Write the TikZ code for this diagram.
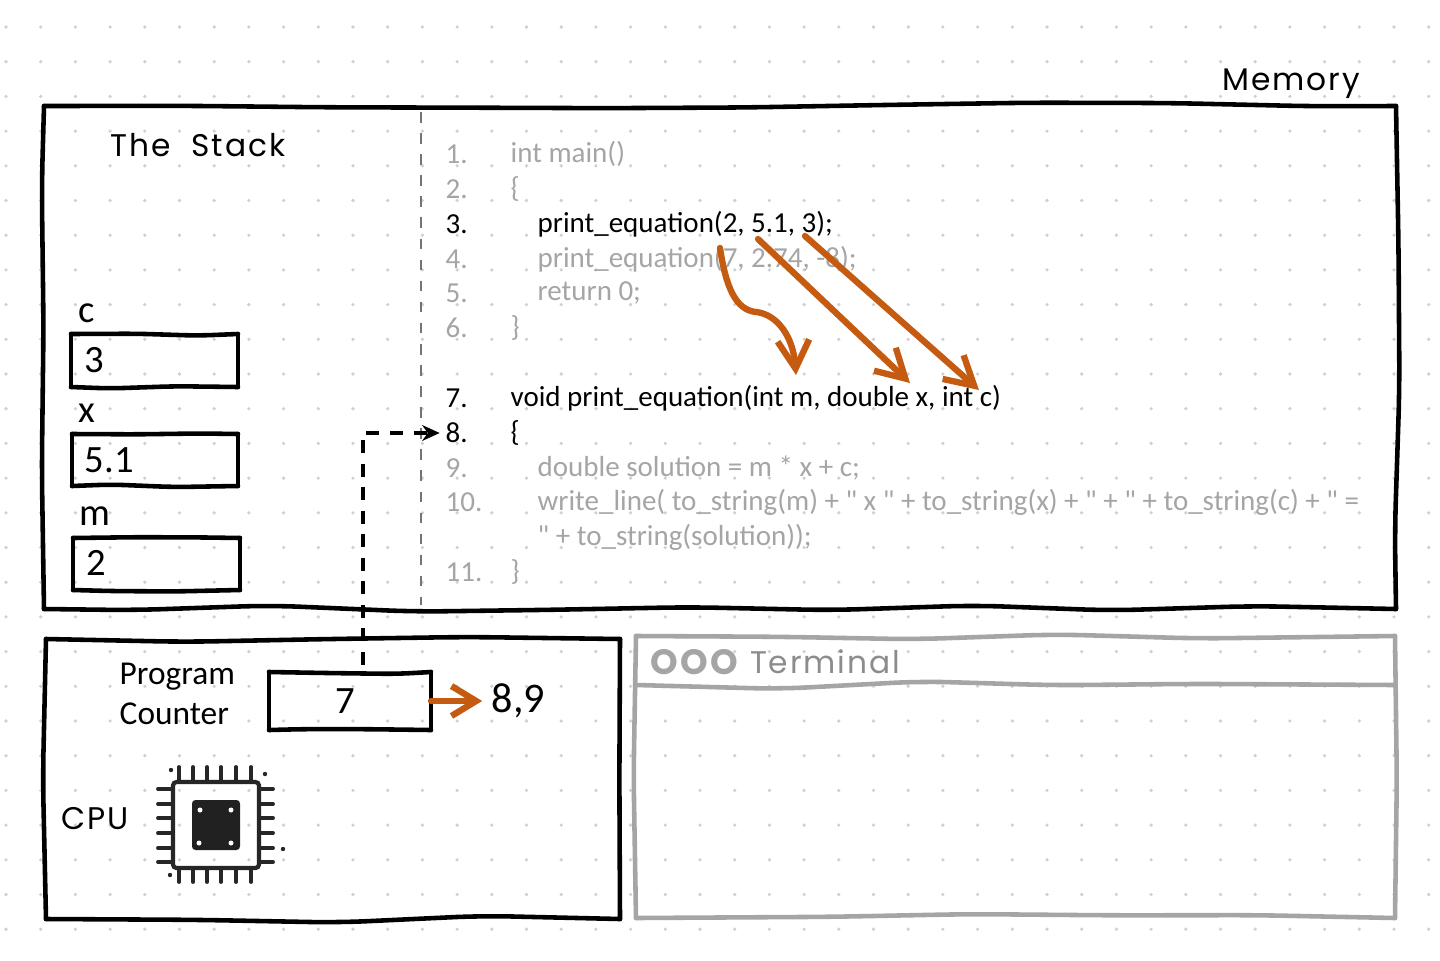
\documentclass[tikz,border=0pt]{standalone}
\usepackage{fontspec}
\setmainfont[Ligatures=TeXOff]{Carlito}
\newfontfamily\handfont[LetterSpace=6]{Poppins}
\usetikzlibrary{arrows.meta,decorations.pathmorphing}
\definecolor{rust}{HTML}{C55A11}
\definecolor{fadegray}{HTML}{A5A5A5}
\definecolor{dotgray}{HTML}{D0D0D0}
\tikzset{
  sketch/.style={line width=1.3pt,line cap=round,decorate,rounded corners=8pt,
    decoration={random steps,segment length=40pt,amplitude=1.2pt}},
  smallsketch/.style={sketch,rounded corners=4pt,decoration={random steps,segment length=18pt,amplitude=0.6pt}},
  edgebox/.style={inner sep=0pt,outer sep=0pt},
  code/.style={anchor=west,inner sep=0pt,xshift=-0.01cm,yshift=-0.01cm,font=\fontsize{8.25}{10}\selectfont},
  dim/.style={code,text=fadegray},
  hand/.style={inner sep=0pt,font=\handfont\fontsize{8.9}{11}\selectfont},
  value/.style={inner sep=0pt,font=\fontsize{11}{13}\selectfont},
  flow/.style={rust,line width=1.8pt,line cap=round,-{Straight Barb[length=8pt,width=9pt,line width=1.8pt]}}
}
\newcommand{\sketchbox}[2]{
  \foreach \from/\to in {north west/north east,north east/south east,south east/south west,south west/north west}
    \draw[#2] (#1.\from) -- (#1.\to);
}
\begin{document}
\begin{tikzpicture}
\useasboundingbox (0,0) rectangle (14.4,9.6);
\pgfmathsetseed{11}
\fill[white] (0,0) rectangle (14.4,9.6);
% dot grid
\foreach \i in {0,...,41}
  \foreach \j in {0,...,26}
    \fill[dotgray] ({0.06+0.347*\i},{9.33-0.347*\j}) circle (0.018);

% memory
\node[edgebox,minimum width=13.52cm,minimum height=5.03cm] (memory) at (7.20,6.025) {};
\sketchbox{memory}{sketch}
\node[hand] (memlabel) at (12.91,8.76) {Memory};
\node[hand] (stacklabel) at (1.98,8.15) {The\hspace{3pt} Stack};
\coordinate (divtop) at (4.21,8.48);
\coordinate (divbot) at (4.21,3.55);
\draw[fadegray!70!black,line width=0.6pt,dashed] (divtop) -- (divbot);

% stack
\node[edgebox,minimum width=1.67cm,minimum height=0.53cm] (cbox) at (1.545,5.995) {};
\node[edgebox,minimum width=1.66cm,minimum height=0.52cm] (xbox) at (1.55,5.00) {};
\node[edgebox,minimum width=1.67cm,minimum height=0.52cm] (mbox) at (1.565,3.96) {};
\sketchbox{cbox}{smallsketch}
\sketchbox{xbox}{smallsketch}
\sketchbox{mbox}{smallsketch}
\node[value,anchor=west] (cval) at (0.84,6.0) {3};
\node[value,anchor=west] (xval) at (0.84,5.0) {5.1};
\node[value,anchor=west] (mval) at (0.86,3.97) {2};
\node[value] (cname) at (0.87,6.47) {c};
\node[value] (xname) at (0.87,5.47) {x};
\node[value] (mname) at (0.95,4.44) {m};

% code
\node[dim] (n1) at (4.46,8.07) {1.};
\node[dim] (l1) at (5.11,8.07) {int main()};
\node[dim] (n2) at (4.46,7.72) {2.};
\node[dim] (l2) at (5.11,7.72) {\{};
\node[code] (n3) at (4.46,7.37) {3.};
\node[code] (l3) at (5.38,7.37) {print\_equation(2, 5.1, 3);};
\node[dim] (n4) at (4.46,7.02) {4.};
\node[dim] (l4) at (5.38,7.02) {print\_equation(7, 2.74, -8);};
\node[dim] (n5) at (4.46,6.68) {5.};
\node[dim] (l5) at (5.38,6.68) {return 0;};
\node[dim] (n6) at (4.46,6.33) {6.};
\node[dim] (l6) at (5.11,6.33) {\}};
\node[code] (n7) at (4.46,5.63) {7.};
\node[code] (l7) at (5.11,5.63) {void print\_equation(int m, double x, int c)};
\node[code] (n8) at (4.46,5.28) {8.};
\node[code] (l8) at (5.11,5.28) {\{};
\node[dim] (n9) at (4.46,4.93) {9.};
\node[dim] (l9) at (5.38,4.93) {double solution = m * x + c;};
\node[dim] (n10) at (4.46,4.59) {10.};
\node[dim] (l10) at (5.38,4.59) {write\_line( to\_string(m) + " x " + to\_string(x) + " + " + to\_string(c) + " =};
\node[dim] (l10b) at (5.38,4.24) {" + to\_string(solution));};
\node[dim] (n11) at (4.46,3.89) {11.};
\node[dim] (l11) at (5.11,3.89) {\}};

% parameter passing
\coordinate (argm) at (7.20,7.12);
\coordinate (bend) at (7.56,6.48);
\coordinate (parm) at (7.96,5.85);
\coordinate (argx) at (7.58,7.21);
\coordinate (parx) at (9.10,5.77);
\coordinate (argc) at (8.05,7.24);
\coordinate (parc) at (9.79,5.70);
\draw[flow] (argm) .. controls (7.26,6.72) and (7.36,6.50) .. (bend) .. controls (7.76,6.46) and (7.93,6.25) .. (parm);
\draw[flow] (argx) -- (parx);
\draw[flow] (argc) -- (parc);

% cpu
\node[edgebox,minimum width=5.74cm,minimum height=2.80cm] (cpu) at (3.33,1.81) {};
\sketchbox{cpu}{sketch}
\node[value,font=\fontsize{9.5}{11.4}\selectfont,align=left,anchor=west] (pclabel) at (1.19,2.66) {Program\\Counter};
\node[edgebox,minimum width=1.62cm,minimum height=0.58cm] (pc) at (3.50,2.59) {};
\sketchbox{pc}{smallsketch}
\node[value] (pcval) at (3.45,2.59) {7};
\node[value,anchor=west,font=\fontsize{12}{14}\selectfont] (nextval) at (4.91,2.59) {8,9};
\draw[flow,shorten >=2.5pt,-{Straight Barb[length=7pt,width=8.5pt,line width=1.8pt]}] (pc.east) -- (nextval.west);
\draw[line width=0.95pt,dash pattern=on 3.7pt off 3pt,shorten >=1.5pt,-{Stealth[length=5pt,width=4.5pt]}] ([xshift=0.13cm,yshift=0.07cm]pc.north) |- (n8.west);
\node[hand] (cpulabel) at (0.95,1.41) {CPU};

% chip
\foreach \x in {1.79,1.93,2.07,2.21,2.36,2.51} {
  \draw[line width=1.1pt,line cap=round,black!85] (\x,1.93) -- (\x,1.79);
  \draw[line width=1.1pt,line cap=round,black!85] (\x,0.92) -- (\x,0.78);
}
\foreach \y in {1.71,1.56,1.42,1.27,1.12,0.98} {
  \draw[line width=1.1pt,line cap=round,black!85] (1.58,\y) -- (1.73,\y);
  \draw[line width=1.1pt,line cap=round,black!85] (2.59,\y) -- (2.73,\y);
}
\draw[line width=1.2pt,black!85,rounded corners=1pt] (1.73,0.92) rectangle (2.59,1.78);
\fill[black!87,rounded corners=1pt] (1.92,1.10) rectangle (2.40,1.60);
\foreach \x/\y in {2.0/1.50,2.31/1.50,1.99/1.17,2.31/1.17}
  \fill[white] (\x,\y) circle (0.025);
\foreach \x/\y in {1.71/1.90,2.65/1.86,2.83/1.11,1.70/0.85}
  \fill[black!85] (\x,\y) circle (0.022);

% terminal
\node[edgebox,minimum width=7.59cm,minimum height=2.82cm] (term) at (10.155,1.83) {};
\node[edgebox,minimum width=7.59cm,minimum height=0.49cm] (termbar) at (10.155,2.995) {};
\sketchbox{term}{sketch,fadegray}
\draw[sketch,fadegray] (termbar.south west) -- (termbar.south east);
\node[inner sep=0pt,text=fadegray,font=\handfont\bfseries\fontsize{10}{12}\selectfont] (termdots) at (6.945,2.98) {OOO};
\node[hand,text=fadegray!85!black] (termlabel) at (8.25,2.98) {Terminal};
\end{tikzpicture}
\end{document}
